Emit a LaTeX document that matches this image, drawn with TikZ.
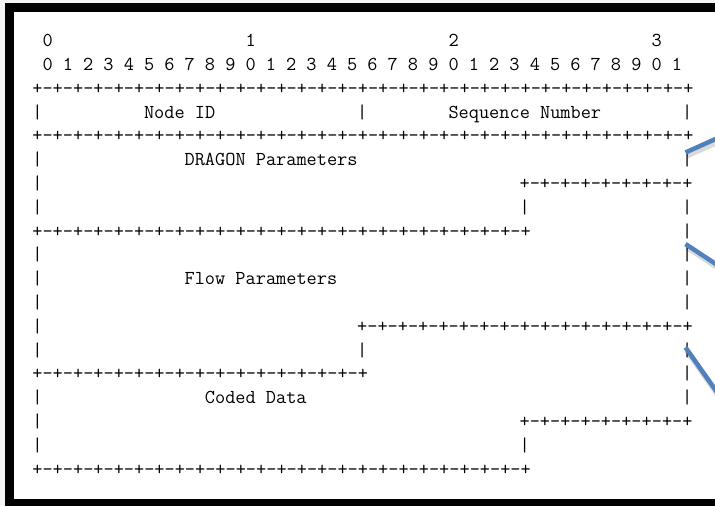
\documentclass[tikz,border=0pt]{standalone}
\usetikzlibrary{calc}
\definecolor{calloutblue}{RGB}{79,129,189}
\definecolor{paper}{RGB}{244,244,244}
% eight "-+" pairs of an ASCII ruler
\newcommand{\pmoct}{-+-+-+-+-+-+-+-+}
\tikzset{
  ascii/.style={anchor=base west, inner sep=0pt, outer sep=0pt,
    font=\fontsize{19.75}{24}\selectfont\ttfamily},
  callout/.style={draw=calloutblue, line width=4.5pt},
  calloutshade/.style={draw=black, opacity=0.15, line width=6pt,
    transform canvas={shift={(1.5pt,-3pt)}}},
  frame/.style={draw=black, line width=9pt}
}
% place text at character column #2 of ASCII line #3
\newcommand{\ascii}[4]{\node[ascii] (#1) at ({32.4+10.15*(#2)},{46.7+23.8*((#3)-1)}) {#4};}
\begin{document}
\begin{tikzpicture}[x=1pt,y=-1pt]
\useasboundingbox (0,0) rectangle (715,506);
\clip (0,0) rectangle (715,506);
\fill[paper] (0,0) rectangle (715,506);
\fill[white] (14,12) rectangle (740,499);
\draw[frame] (9.5,7.5) rectangle (745,503.5);

% bit numbering
\ascii{t0}{1}{1}{0}
\ascii{t1}{21}{1}{1}
\ascii{t2}{41}{1}{2}
\ascii{t3}{61}{1}{3}
\foreach \c in {0,...,31}{
  \pgfmathtruncatemacro\dig{mod(\c,10)}
  \node[ascii] (b\c) at ({32.4+10.15*(2*\c+1)},{46.7+23.8}) {\dig};
}

% header words
\ascii{r3}{0}{3}{+\pmoct\pmoct\pmoct\pmoct}
\ascii{r4a}{0}{4}{|}
\ascii{nodeid}{11}{4}{Node ID}
\ascii{r4b}{32}{4}{|}
\ascii{seqno}{41}{4}{Sequence Number}
\ascii{r4c}{64}{4}{|}
\ascii{r5}{0}{5}{+\pmoct\pmoct\pmoct\pmoct}

% DRAGON parameters
\ascii{r6a}{0}{6}{|}
\ascii{dragon}{15}{6}{DRAGON Parameters}
\ascii{r6b}{64}{6}{|}
\ascii{r7a}{0}{7}{|}
\ascii{r7b}{48}{7}{+\pmoct}
\ascii{r8a}{0}{8}{|}
\ascii{r8b}{48}{8}{|}
\ascii{r8c}{64}{8}{|}
\ascii{r9a}{0}{9}{+\pmoct\pmoct\pmoct}
\ascii{r9b}{64}{9}{|}

% flow parameters
\ascii{r10a}{0}{10}{|}
\ascii{r10b}{64}{10}{|}
\ascii{r11a}{0}{11}{|}
\ascii{flow}{15}{11}{Flow Parameters}
\ascii{r11b}{64}{11}{|}
\ascii{r12a}{0}{12}{|}
\ascii{r12b}{64}{12}{|}
\ascii{r13a}{0}{13}{|}
\ascii{r13b}{32}{13}{+\pmoct\pmoct}
\ascii{r14a}{0}{14}{|}
\ascii{r14b}{32}{14}{|}
\ascii{r14c}{64}{14}{|}
\ascii{r15a}{0}{15}{+\pmoct\pmoct}
\ascii{r15b}{64}{15}{|}

% coded data
\ascii{r16a}{0}{16}{|}
\ascii{coded}{17}{16}{Coded Data}
\ascii{r16b}{64}{16}{|}
\ascii{r17a}{0}{17}{|}
\ascii{r17b}{48}{17}{+\pmoct}
\ascii{r18a}{0}{18}{|}
\ascii{r18b}{48}{18}{|}
\ascii{r19}{0}{19}{+\pmoct\pmoct\pmoct}

% callout lines leaving the right edge
\coordinate (s1) at (685.5,152.5);
\coordinate (e1) at (745,{152.5-59.5*0.45});
\coordinate (s2) at (685.5,244);
\coordinate (e2) at (745,{244+59.5*0.66});
\coordinate (s3) at (685.5,347.5);
\coordinate (e3) at (745,{347.5+59.5*1.42});
\foreach \k in {1,2,3}{
  \draw[calloutshade] (s\k) -- (e\k);
  \draw[callout] (s\k) -- (e\k);
}
\end{tikzpicture}
\end{document}
